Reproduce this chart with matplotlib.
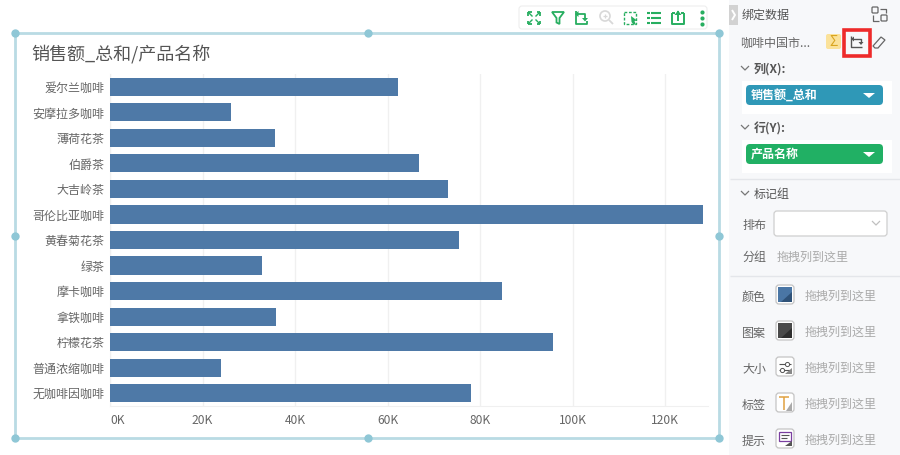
import matplotlib
matplotlib.use('Agg')
import matplotlib.pyplot as plt
from matplotlib.patches import Rectangle, FancyBboxPatch, Circle, Polygon
from matplotlib.ticker import FuncFormatter

plt.rcParams['font.family'] = ['Noto Sans CJK SC', 'DejaVu Sans']

products = ['爱尔兰咖啡', '安摩拉多咖啡', '薄荷花茶', '伯爵茶', '大吉岭茶', '哥伦比亚咖啡', '黄春菊花茶',
            '绿茶', '摩卡咖啡', '拿铁咖啡', '柠檬花茶', '普通浓缩咖啡', '无咖啡因咖啡']
sales = [62200, 26100, 35700, 66800, 73000, 128200, 75400, 32900, 84800, 35900, 95700, 24000, 78000]
xticks = [0, 20000, 40000, 60000, 80000, 100000, 120000]
title = '销售额_总和/产品名称'

W, H = 900, 455
fig = plt.figure(figsize=(9, 4.55), dpi=100, facecolor='white')

ui = fig.add_axes([0, 0, 1, 1], zorder=0)
ui.set_xlim(0, W); ui.set_ylim(H, 0); ui.axis('off')

def rect(x, y, w, h, fc, ec='none', lw=0, z=1):
    ui.add_patch(Rectangle((x, y), w, h, fc=fc, ec=ec, lw=lw, zorder=z))
def rrect(x, y, w, h, fc, ec='none', lw=1, r=3, z=2):
    ui.add_patch(FancyBboxPatch((x + r, y + r), w - 2 * r, h - 2 * r, boxstyle=f'round,pad={r},rounding_size={r}',
                                fc=fc, ec=ec, lw=lw, zorder=z))
def line(xs, ys, c='#555555', lw=1, z=4, ls='-'):
    ui.plot(xs, ys, color=c, lw=lw, zorder=z, ls=ls, solid_capstyle='butt')
def txt(x, y, s, size=8.65, c='#666666', ha='left', weight='normal', z=5):
    ui.text(x, y + 1, s, fontsize=size, color=c, ha=ha, va='center', fontweight=weight, zorder=z)

# chart frame
fc = '#b9dbe4'
for (xs, ys) in [((15, 719), (33, 33)), ((15, 719), (438, 438)), ((15, 15), (33, 438)), ((719, 719), (33, 438))]:
    line(xs, ys, c=fc, lw=2, z=2)
for px in (15, 368, 719):
    for py in (33, 236, 438):
        if px == 368 and py == 236:
            continue
        ui.scatter([px], [py], s=36, c='#8fc7d6', linewidths=0, zorder=3)

txt(31, 53.5, title, size=13, c='#555555')

# toolbar
rrect(519, 6, 188, 23, 'white', ec='#eeeeee', lw=0.8, z=4)
g = '#27ae60'
# fullscreen
for sx, sy in [(-1, -1), (1, -1), (-1, 1), (1, 1)]:
    cx, cy = 534 + sx * 6, 18 + sy * 6
    line([cx, cx], [cy, cy - sy * 3.5], c=g, lw=1.3, z=6)
    line([cx, cx - sx * 3.5], [cy, cy], c=g, lw=1.3, z=6)
    line([cx, cx - sx * 4.5], [cy, cy - sy * 4.5], c=g, lw=1, z=6)
# filter
ui.add_patch(Polygon([(552, 12), (564, 12), (559.5, 18), (559.5, 24), (556.5, 22.5), (556.5, 18)], fc='none', ec=g, lw=1.3, zorder=6))
# swap
line([576, 576, 587, 587], [11, 24, 24, 21], c=g, lw=1.3, z=6)
line([578, 585, 585], [14, 14, 18], c=g, lw=1.3, z=6)
ui.add_patch(Polygon([(582, 18), (588, 18), (585, 21.5)], fc=g, ec='none', zorder=6))
ui.add_patch(Polygon([(578.5, 11), (578.5, 17), (575, 14)], fc=g, ec='none', zorder=6))
# zoom
ui.add_patch(Circle((605, 16), 5, fc='none', ec='#d8d8d8', lw=1.2, zorder=6))
line([609, 613], [20, 24], c='#d8d8d8', lw=1.3, z=6)
line([603, 607], [16, 16], c='#d8d8d8', lw=0.9, z=6)
line([605, 605], [14, 18], c='#d8d8d8', lw=0.9, z=6)
# select
ui.add_patch(Rectangle((623.5, 11.5), 12, 12, fc='none', ec=g, lw=1, ls=(0, (2, 1.2)), zorder=6))
ui.add_patch(Polygon([(631, 16), (637, 20.5), (634.5, 21), (636, 25), (633, 24), (631.5, 22)], fc=g, ec='none', zorder=7))
# list
for yy in (12.5, 17.5, 22.5):
    line([647, 650], [yy, yy], c=g, lw=1.5, z=6)
    line([651, 661], [yy, yy], c=g, lw=1.5, z=6)
# export
line([672, 672, 684, 684], [13, 24, 24, 13], c=g, lw=1.4, z=6)
line([672, 675], [13, 13], c=g, lw=1.4, z=6)
line([681, 684], [13, 13], c=g, lw=1.4, z=6)
line([678, 678], [21, 11], c=g, lw=1.4, z=6)
ui.add_patch(Polygon([(674.5, 15), (678, 10.5), (681.5, 15)], fc=g, ec='none', zorder=6))
# dots
ui.scatter([702] * 3, [12, 18, 24], s=9, c=g, linewidths=0, zorder=6)

# side panel
rect(729, 0, 171, 455, '#f7f8fa')
rect(729, 5, 9, 20, '#d2d2d2', z=2)
line([732, 735, 732], [10, 15, 20], c='white', lw=1.4, z=3)
txt(742, 14, '绑定数据', size=8.65, c='#555555')
for bx, by in [(872, 7), (881, 15)]:
    rrect(bx, by, 6, 6, 'none', ec='#666666', lw=0.9, r=1, z=4)
line([880, 886, 886], [9, 9, 13], c='#666666', lw=0.9)
line([873, 873, 879], [15, 21, 21], c='#666666', lw=0.9)

txt(740, 42, '咖啡中国市...', size=8.65, c='#666666')
rrect(826, 34, 15, 15, '#fbe29a', r=2)
txt(833.5, 40.5, 'Σ', size=10, c='#d9a520', ha='center')
rect(844, 30, 26, 26, 'none', ec='#ee2a2a', lw=2.6, z=4)
line([851, 851, 862], [36, 47, 47], c='#555555', lw=1)
line([853, 861, 861], [39, 39, 42], c='#555555', lw=1)
ui.add_patch(Polygon([(858.5, 42), (863.5, 42), (861, 45)], fc='#555555', ec='none', zorder=5))
ui.add_patch(Polygon([(854, 36.5), (854, 41.5), (851, 39)], fc='#555555', ec='none', zorder=5))
ui.add_patch(Polygon([(873, 46), (881, 37), (885, 40), (878, 48), (875, 48)], fc='none', ec='#666666', lw=0.9, zorder=5))

def chevron(x, y):
    line([x, x + 4, x + 8], [y - 2, y + 2, y - 2], c='#777777', lw=0.9)

chevron(741, 68)
txt(754, 68.5, '列(X):', c='#555555', weight='bold')
rect(742, 81, 150, 33, 'white')
rrect(746, 85, 137, 20, '#2f98b7', r=4, z=3)
txt(751, 94.5, '销售额_总和', c='white', weight='bold')
ui.add_patch(Polygon([(863, 93), (875, 93), (869, 98)], fc='white', ec='none', zorder=5))

chevron(741, 127)
txt(754, 127.5, '行(Y):', c='#555555', weight='bold')
rect(742, 140, 150, 33, 'white')
rrect(746, 144, 137, 20, '#21b064', r=4, z=3)
txt(751, 153.5, '产品名称', c='white', weight='bold')
ui.add_patch(Polygon([(863, 152), (875, 152), (869, 157)], fc='white', ec='none', zorder=5))

line([730, 900], [179, 179], c='#e4e6ea', lw=1, z=2)
chevron(741, 193)
txt(754, 193.5, '标记组', c='#555555')
txt(742, 224, '排布')
rrect(774, 211, 113, 25, 'white', ec='#cfcfcf', lw=0.9, r=3)
line([872, 876, 880], [221, 225, 221], c='#c0c0c0', lw=0.9)
txt(742, 256, '分组')
txt(777, 256, '拖拽列到这里', c='#aaaaaa')
line([730, 900], [276, 276], c='#e4e6ea', lw=1, z=2)

rows = [('颜色', 295, '#4a76a5', '#2f5278'), ('图案', 331, '#4a4a4a', '#2e2e2e'), ('大小', 367, 'white', '#666666'),
        ('标签', 403, 'white', '#aaaaaa'), ('提示', 439, 'white', '#666666')]
for name, y, c1, c2 in rows:
    txt(742, y + 1, name)
    rrect(776, y - 10, 18, 19, 'white', ec='#c4c4c4', lw=0.9, r=3, z=3)
    if c1 != 'white':
        rect(778, y - 8, 14, 15, c1, z=4)
        ui.add_patch(Polygon([(792, y - 3), (792, y + 7), (781, y + 7)], fc=c2, ec='none', zorder=5))
    txt(805, y, '拖拽列到这里', c='#aaaaaa')
# small icons
line([779, 791], [364, 364], c='#555555', lw=0.8, z=6)
line([779, 791], [370, 370], c='#555555', lw=0.8, z=6)
ui.scatter([787, 782], [364, 370], s=9, c='white', edgecolors='#555555', linewidths=0.7, zorder=7)
ui.add_patch(Polygon([(792, 368), (792, 374), (785, 374)], fc='#888888', ec='none', zorder=6))
line([779, 789], [397, 397], c='#e0a040', lw=1.1, z=6)
line([784, 784], [397, 410], c='#e0a040', lw=1.1, z=6)
ui.add_patch(Polygon([(792, 402), (792, 411), (786, 411)], fc='#aaaaaa', ec='none', zorder=6))
ui.add_patch(Rectangle((779, 432), 12, 9, fc='white', ec='#7a3fa0', lw=0.9, zorder=6))
line([781, 789], [435, 435], c='#555555', lw=0.8, z=7)
line([781, 787], [438, 438], c='#555555', lw=0.8, z=7)
ui.add_patch(Polygon([(792, 441), (792, 446), (785, 446)], fc='#555555', ec='none', zorder=7))

# chart
x0, x1, y0, y1 = 110, 708, 74, 406
ax = fig.add_axes([x0 / W, 1 - y1 / H, (x1 - x0) / W, (y1 - y0) / H], zorder=2, facecolor='none')
ypos = list(range(len(products)))
ax.barh(ypos, sales, height=0.71, color='#4e79a7', zorder=3)
ax.set_xlim(0, (x1 - x0) / 92.55 * 20000)
ax.set_ylim(len(products) - 0.5, -0.5)
ax.set_yticks(ypos, products)
ax.set_xticks(xticks)
ax.xaxis.set_major_formatter(FuncFormatter(lambda v, _: f'{int(v / 1000)}K'))
ax.grid(axis='x', color='#f0f0f0', lw=1, zorder=0)
ax.tick_params(axis='y', length=0, pad=4, labelsize=8.65, labelcolor='#666666')
ax.tick_params(axis='x', length=0, pad=5.5, labelsize=8.65, labelcolor='#666666')
for s in ('top', 'right'):
    ax.spines[s].set_visible(False)
ax.spines['left'].set_color('#f0f0f0')
ax.spines['bottom'].set_color('#f0f0f0')
ax.get_xticklabels()[0].set_ha('left')

fig.savefig('out.png', dpi=100, facecolor='white')
